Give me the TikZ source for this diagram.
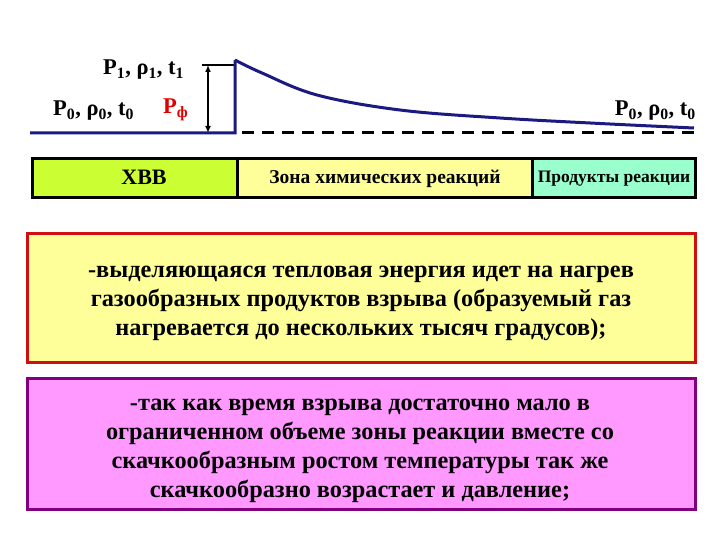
\documentclass[tikz,border=0pt]{standalone}
\usepackage{fontspec}
\setmainfont{Liberation Serif}
\usetikzlibrary{arrows.meta}
\definecolor{navy}{HTML}{1A1A80}
\definecolor{lime}{HTML}{CCFF33}
\definecolor{paleyellow}{HTML}{FFFF99}
\definecolor{mint}{HTML}{99FFCC}
\definecolor{boxred}{HTML}{D01010}
\definecolor{pink}{HTML}{FF99FF}
\definecolor{purp}{HTML}{800080}
\definecolor{redlbl}{HTML}{E00000}
\tikzset{
  band/.style={draw=black, line width=3pt, minimum height=39pt, inner sep=0pt, anchor=north west},
  lbl/.style={font=\fontsize{22.5}{24}\selectfont\bfseries, inner sep=0pt},
  info/.style={line width=3pt, anchor=north west, inner sep=0pt},
  infotext/.style={align=center, inner sep=0pt, font=\fontsize{24.3}{29}\selectfont\bfseries}
}
\begin{document}
\begin{tikzpicture}[x=1pt,y=-1pt]
\useasboundingbox (0,0) rectangle (720,540);
% chart
\coordinate (b0) at (30,133);
\coordinate (b1) at (235,133);
\coordinate (top) at (235,60);
\coordinate (h0) at (202,65);
\coordinate (h1) at (235,65);
\coordinate (a0) at (208,65);
\coordinate (a1) at (208,133);
\coordinate (d0) at (242,133);
\coordinate (d1) at (694,133);
\draw[black, line width=2.5pt] (h0) -- (h1);
\draw[black, line width=2pt, {Latex[length=7pt,width=6pt]}-{Latex[length=7pt,width=6pt]}] (a0) -- (a1);
\draw[black, line width=3pt, dash pattern=on 12pt off 8pt] (d0) -- (d1);
\draw[navy, line width=3pt, line join=miter] (b0) -- (b1) -- (top)
  plot[smooth, tension=0.6] coordinates {(235,60) (262,73) (317,95) (400,110) (500,118) (600,123.5) (694,128)};
\node[lbl, anchor=base west] (l1) at (103,75) {P\textsubscript{1}, ρ\textsubscript{1}, t\textsubscript{1}};
\node[lbl, anchor=base west] (l0) at (53,116) {P\textsubscript{0}, ρ\textsubscript{0}, t\textsubscript{0}};
\node[lbl, anchor=base west, text=redlbl] (pf) at (163,114) {P\textsubscript{ф}};
\node[lbl, anchor=base east] (r0) at (696,116) {P\textsubscript{0}, ρ\textsubscript{0}, t\textsubscript{0}};
% band
\node[band, fill=lime, minimum width=205pt] (xvv) at (31,157.5) {};
\node[font=\fontsize{22}{24}\selectfont\bfseries, inner sep=0pt] (xvvtext) at (144,177.5) {ХВВ};
\node[band, fill=paleyellow, minimum width=295pt, font=\fontsize{19.5}{22}\selectfont\bfseries] (zone) at (236,157.5) {Зона химических реакций};
\node[band, fill=mint, minimum width=163pt, font=\fontsize{17.5}{20}\selectfont\bfseries] (prod) at (531,157.5) {Продукты реакции};
% info boxes
\node[info, draw=boxred, fill=paleyellow, minimum width=668pt, minimum height=129pt] (heat) at (25.5,232) {};
\node[infotext] (heattext) at (361,303) {-выделяющаяся тепловая энергия идет на нагрев\\газообразных продуктов взрыва (образуемый газ\\нагревается до нескольких тысяч градусов);};
\node[info, draw=purp, fill=pink, minimum width=668pt, minimum height=131pt] (press) at (25.5,377) {};
\node[infotext] (presstext) at (360,451) {-так как время взрыва достаточно мало в\\ограниченном объеме зоны реакции вместе со\\скачкообразным ростом температуры так же\\скачкообразно возрастает и давление;};
\end{tikzpicture}
\end{document}
